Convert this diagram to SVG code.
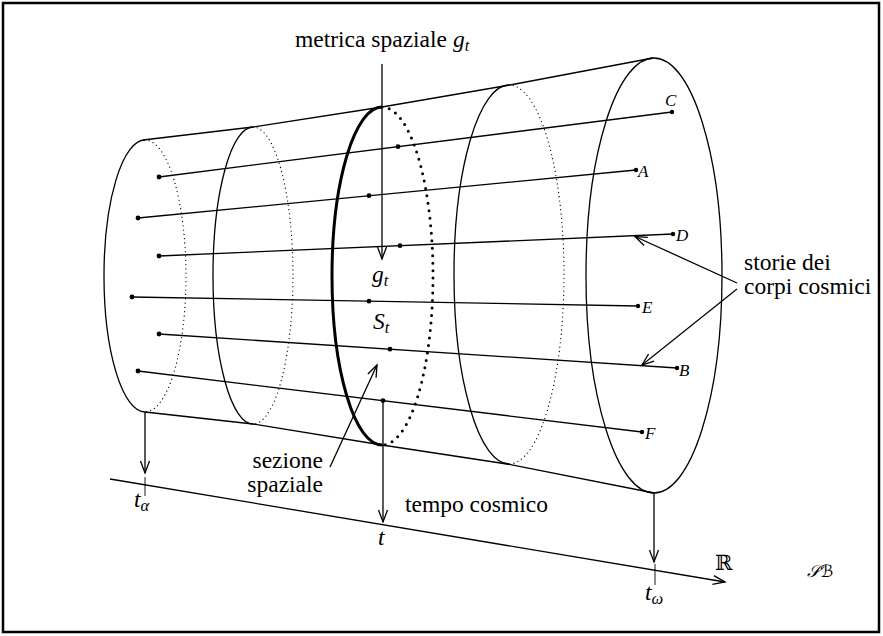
<svg xmlns="http://www.w3.org/2000/svg" width="883" height="636" viewBox="0 0 883 636">
<style>
text{font-family:"Liberation Serif","Times New Roman",serif;font-size:23.5px;fill:#000}
.it{font-style:italic}
.sub{font-style:italic;font-size:16.5px}
.lbl{font-style:italic;font-size:17px}
.ln{fill:none;stroke:#000;stroke-width:1.3}
.thin{fill:none;stroke:#000;stroke-width:0.9}
.dot{fill:none;stroke:#000;stroke-width:1.3;stroke-dasharray:0 4.3;stroke-linecap:round}
.bold{fill:none;stroke:#000;stroke-width:3}
.bdot{fill:none;stroke:#000;stroke-width:3;stroke-dasharray:0 7.5;stroke-linecap:round}
.pt{fill:#000}
</style>
<defs>
<marker id="arr" markerUnits="userSpaceOnUse" orient="auto" overflow="visible" markerWidth="16" markerHeight="12" refX="0" refY="0" viewBox="-14 -6 16 12">
<path d="M-12,-4.5 Q-4,-1.5 0,0 Q-4,1.5 -12,4.5" fill="none" stroke="#000" stroke-width="1.3"/>
</marker>
</defs>
<rect x="3" y="3" width="876" height="629" fill="#fff" stroke="#000" stroke-width="2.5"/>

<g id="cylinder">
<polyline class="ln" points="143,140 253,127 382,107 510,85 653,58"/>
<polyline class="ln" points="145,412 253,424 382,445 507,464 654,493"/>
</g>

<g id="section1">
<path class="ln" d="M145,140 A41,136 0 0 0 145,412"/>
<path class="dot" d="M145,140 A41,136 0 0 1 145,412"/>
</g>
<g id="section2">
<path class="ln" d="M253,127 A40,148.5 0 0 0 253,424"/>
<path class="dot" d="M253,127 A40,148.5 0 0 1 253,424"/>
</g>
<g id="section-St">
<path class="bold" d="M382,107 A50,169 0 0 0 382,445"/>
<path class="bdot" d="M382,107 A51,169 0 0 1 382,445"/>
</g>
<g id="section4">
<path class="ln" d="M509,85 A55,189.5 0 0 0 509,464"/>
<path class="dot" d="M509,85 A55,189.5 0 0 1 509,464"/>
</g>
<g id="section5">
<ellipse class="ln" cx="654" cy="275.5" rx="68" ry="217.5"/>
</g>

<g id="connectors">
<line class="ln" x1="159" y1="177" x2="672" y2="112"/>
<line class="ln" x1="138" y1="218" x2="636" y2="170"/>
<line class="ln" x1="159" y1="256" x2="673" y2="234"/>
<line class="ln" x1="132" y1="297" x2="638" y2="306"/>
<line class="ln" x1="159" y1="334" x2="677" y2="368"/>
<line class="ln" x1="138" y1="371" x2="642" y2="432"/>
<line class="ln" x1="382" y1="64" x2="382" y2="259" marker-end="url(#arr)"/>
<line class="ln" x1="383" y1="401" x2="383" y2="522" marker-end="url(#arr)"/>
<line class="ln" x1="145" y1="412" x2="145" y2="473" marker-end="url(#arr)"/>
<line class="ln" x1="654" y1="493" x2="654" y2="562" marker-end="url(#arr)"/>
<line class="ln" x1="330" y1="467" x2="377" y2="365" marker-end="url(#arr)"/>
<line class="ln" x1="737" y1="283" x2="635" y2="236.5" marker-end="url(#arr)"/>
<line class="ln" x1="737" y1="289" x2="642" y2="365" marker-end="url(#arr)"/>
<line class="ln" x1="110" y1="479" x2="725" y2="582" marker-end="url(#arr)"/>
<line class="thin" x1="145" y1="477" x2="145" y2="496"/>
<line class="thin" x1="655" y1="564" x2="655" y2="585"/>
</g>

<g id="points">
<circle class="pt" cx="159" cy="177" r="2.4"/><circle class="pt" cx="672" cy="112" r="2.2"/><circle class="pt" cx="398" cy="146.7" r="2.4"/>
<circle class="pt" cx="138" cy="218" r="2.4"/><circle class="pt" cx="636" cy="170" r="2.2"/><circle class="pt" cx="369" cy="195.7" r="2.4"/>
<circle class="pt" cx="159" cy="256" r="2.4"/><circle class="pt" cx="673" cy="234" r="2.2"/><circle class="pt" cx="400" cy="245.7" r="2.4"/>
<circle class="pt" cx="132" cy="297" r="2.4"/><circle class="pt" cx="638" cy="306" r="2.2"/><circle class="pt" cx="369" cy="301.2" r="2.4"/>
<circle class="pt" cx="159" cy="334" r="2.4"/><circle class="pt" cx="677" cy="368" r="2.2"/><circle class="pt" cx="390" cy="349.2" r="2.4"/>
<circle class="pt" cx="138" cy="371" r="2.4"/><circle class="pt" cx="642" cy="432" r="2.2"/><circle class="pt" cx="383" cy="400.6" r="2.4"/>
</g>

<g id="labels">
<text x="665" y="106" class="lbl">C</text>
<text x="638" y="177" class="lbl">A</text>
<text x="676" y="241" class="lbl">D</text>
<text x="642" y="313" class="lbl">E</text>
<text x="679" y="376" class="lbl">B</text>
<text x="645" y="439" class="lbl">F</text>
<text x="295" y="47">metrica spaziale <tspan class="it">g</tspan><tspan class="sub" dy="4">t</tspan></text>
<text x="372" y="282" class="it">g<tspan class="sub" dy="4">t</tspan></text>
<text x="373" y="329" class="it">S<tspan class="sub" dy="4">t</tspan></text>
<text x="323" y="468" text-anchor="end">sezione</text>
<text x="323" y="492" text-anchor="end">spaziale</text>
<text x="405" y="512">tempo cosmico</text>
<text x="744" y="270">storie dei</text>
<text x="744" y="294">corpi cosmici</text>
<text x="378" y="545" class="it">t</text>
<text x="134" y="507" class="it">t<tspan class="sub" dy="4">α</tspan></text>
<text x="645" y="600" class="it">t<tspan class="sub" dy="4">ω</tspan></text>
<text x="715" y="570" style="font-family:'DejaVu Serif',serif;font-size:21px">ℝ</text>
<text x="807" y="577" style="font-family:'DejaVu Serif','DejaVu Sans',serif;font-size:17px;font-style:italic">𝒮ℬ</text>
</g>
</svg>
